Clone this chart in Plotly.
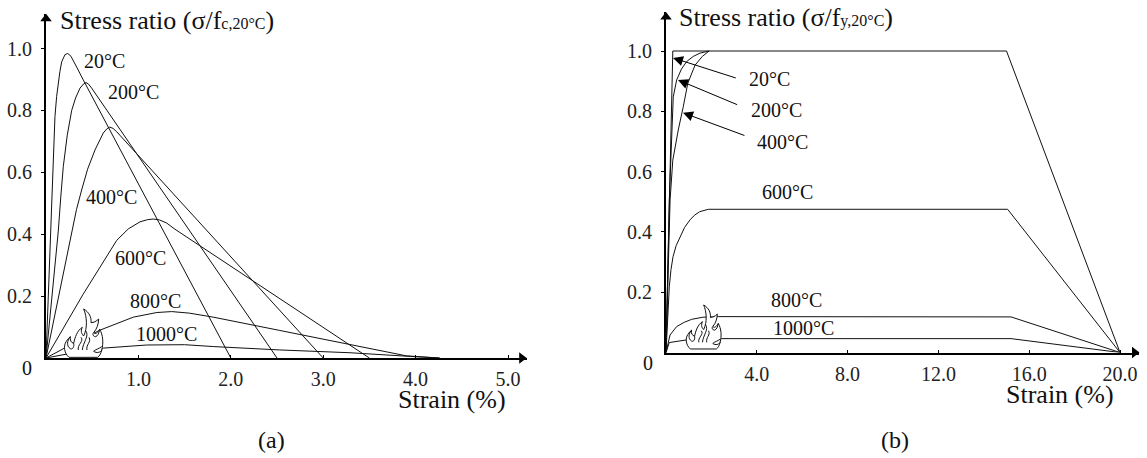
import plotly.graph_objects as go

W, H = 1147, 458
SERIF = "Liberation Serif"

# ---- panel (a) concrete: strain %, stress ratio
A_20_X = [0, .05, .075, .097, .115, .133, .15, .17, .19, .205, .235, .27, .332, .404, 2.0]
A_20_Y = [0, .41, .62, .78, .845, .888, .925, .957, .972, .98, .984, .975, .94, .898, 0]
A_200_X = [0, .133, .16, .187, .23, .278, .32, .368, .405, .433, .46, .494, 2.5]
A_200_Y = [0, .41, .52, .618, .72, .80, .84, .872, .885, .89, .885, .872, 0]
A_400_X = [0, .278, .33, .386, .45, .53, .62, .66, .69, .725, .765, 3.0]
A_400_Y = [0, .41, .48, .543, .61, .672, .727, .741, .746, .742, .731, 0]
A_600_X = [0, .4, .765, .83, .89, 1.017, 1.1, 1.16, 1.23, 1.306, 1.396, 3.5]
A_600_Y = [0, .205, .38, .40, .417, .44, .447, .449, .446, .436, .416, 0]
A_800_X = [0, .25, .584, .945, 1.2, 1.36, 1.55, 1.81, 2.53, 2.78, 3.31, 3.9, 4.26]
A_800_Y = [0, .04, .09, .132, .147, .15, .145, .132, .089, .074, .042, .007, 0]
A_1000_X = [0, .3, .62, 1.09, 1.5, 1.81, 2.53, 3.29, 4.0, 4.26]
A_1000_Y = [0, .017, .032, .042, .043, .037, .026, .017, .004, 0]
A_SERIES = [(A_20_X, A_20_Y), (A_200_X, A_200_Y), (A_400_X, A_400_Y),
            (A_600_X, A_600_Y), (A_800_X, A_800_Y), (A_1000_X, A_1000_Y)]
A_XT = [1, 2, 3, 4, 5]
A_XL = ["1.0", "2.0", "3.0", "4.0", "5.0"]
YT = [.2, .4, .6, .8, 1.0]
YL = ["0.2", "0.4", "0.6", "0.8", "1.0"]
TEMPS = ["20°C", "200°C", "400°C", "600°C", "800°C", "1000°C"]
A_LX = [.628, .942, .714, 1.02, 1.19, 1.3]
A_LY = [.96, .859, .52, .323, .184, .078]

# ---- panel (b) steel
B_20_X = [0, .3, 15, 20]
B_20_Y = [0, 1.0, 1.0, 0]
B_200_X = [0, .145, .32, .47, .68, .91, 1.2, 1.5, 1.9]
B_200_Y = [0, .506, .848, .904, .94, .965, .982, .993, 1.0]
B_400_X = [0, .18, .3, .54, .76, .96, 1.28, 1.6, 1.9]
B_400_Y = [0, .506, .638, .738, .815, .893, .953, .982, 1.0]
B_600_X = [0, .06, .145, .22, .31, .45, .62, .82, 1.06, 1.25, 1.48, 1.87, 15.05, 20]
B_600_Y = [0, .11, .218, .275, .318, .355, .384, .415, .44, .455, .467, .475, .475, 0]
B_800_X = [0, .1, .176, .47, .8, 1.13, 1.62, 2.3, 15.2, 20]
B_800_Y = [0, .03, .058, .086, .10, .11, .117, .119, .118, 0]
B_1000_X = [0, .145, .84, 2.45, 15.2, 20]
B_1000_Y = [0, .033, .041, .046, .046, 0]
B_SERIES = [(B_20_X, B_20_Y), (B_200_X, B_200_Y), (B_400_X, B_400_Y),
            (B_600_X, B_600_Y), (B_800_X, B_800_Y), (B_1000_X, B_1000_Y)]
B_XT = [4, 8, 12, 16, 20]
B_XL = ["4.0", "8.0", "12.0", "16.0", "20.0"]
B_LX = [4.54, 4.85, 5.15, 5.37, 5.73, 6.07]
B_LY = [.907, .804, .698, .532, .174, .082]
B_ARROW_TIP_X = [.31, .53, .75]
B_ARROW_TIP_Y = [.977, .904, .795]
B_ARROW_TAIL_X = [3.14, 3.2, 3.52]
B_ARROW_TAIL_Y = [.909, .82, .718]

# flame drawing (ornament), outline in its own local units
FLAME_OUTER = ("M42 172 C28 160 24 138 34 124 C38 118 42 113 46 110 C44 120 48 128 56 130 "
               "C60 112 66 92 82 82 C76 94 80 102 86 108 C98 84 96 50 86 27 C102 36 110 52 108 68 "
               "C116 68 124 64 131 57 C130 74 126 86 116 98 C122 104 128 98 134 88 "
               "C144 104 146 130 140 150 C138 160 134 168 128 172 Z")
FLAME_INNER = ["M46 110 C36 122 34 138 46 146 C54 150 58 138 56 130",
               "M92 92 C104 108 84 126 82 150",
               "M102 112 C110 126 92 134 96 150",
               "M78 112 C88 124 66 134 70 150",
               "M116 98 C112 102 114 110 122 110 C128 108 132 100 134 88",
               "M140 140 C132 146 122 148 116 154 C126 160 134 158 142 150"]


def px_to_paper(px, py):
    return f"{px / W:.5f} {1 - py / H:.5f}"


def flame_path(d, ox, oy, s):
    out, nums = [], []
    for tok in d.replace("M", " M ").replace("C", " C ").replace("Z", " Z ").split():
        if tok in "MCZ":
            out.append(tok)
        else:
            nums.append(float(tok))
            if len(nums) == 2:
                out.append(px_to_paper(ox + nums[0] * s / 3, oy + nums[1] * s / 3))
                nums = []
    return " ".join(out)


fig = go.Figure()
AX = dict(xaxis="x", yaxis="y")
BX = dict(xaxis="x2", yaxis="y2")
LINE = dict(color="#111111", width=1)
for xs, ys in A_SERIES:
    fig.add_trace(go.Scatter(x=xs, y=ys, mode="lines", line=LINE, **AX))
for xs, ys in B_SERIES:
    fig.add_trace(go.Scatter(x=xs, y=ys, mode="lines", line=LINE, **BX))
for refs, tx, ty in ((AX, 5.148, 1.096), (BX, 20.64, 1.113)):
    fig.add_trace(go.Scatter(x=[tx], y=[0], mode="markers", cliponaxis=False,
                             marker=dict(symbol="triangle-right", size=10, color="black"), **refs))
    fig.add_trace(go.Scatter(x=[0], y=[ty], mode="markers", cliponaxis=False,
                             marker=dict(symbol="triangle-up", size=10, color="black"), **refs))


def axis(dom, rng, tv, tl, direction):
    return dict(domain=dom, range=rng, tickvals=tv, ticktext=tl, showgrid=False, zeroline=False,
                showline=True, linecolor="black", linewidth=2, ticks=direction, ticklen=3,
                tickcolor="black", tickwidth=1, tickfont=dict(family=SERIF, size=20, color="#222222"))


def ann(x, y, text, xr, yr, size=20, anchor="center"):
    return dict(x=x, y=y, text=text, xref=xr, yref=yr, showarrow=False, xanchor=anchor, yanchor="middle",
                font=dict(family=SERIF, size=size, color="#111111"))


def pann(px, py, text, size=20):
    return ann(px / W, 1 - py / H, text, "paper", "paper", size)


anns = []
for t, x, y in zip(TEMPS, A_LX, A_LY):
    anns.append(ann(x, y, t, "x", "y"))
for t, x, y in zip(TEMPS, B_LX, B_LY):
    anns.append(ann(x, y, t, "x2", "y2"))
anns.append(ann(.13, 1.092, 'Stress ratio (σ/f<span style="font-size:16px">c,20°C</span>)', "x", "y", 26, "left"))
anns.append(ann(.49, 1.112, 'Stress ratio (σ/f<span style="font-size:16px">y,20°C</span>)', "x2", "y2", 26, "left"))
anns.append(pann(452, 399, "Strain (%)", 26))
anns.append(pann(1060, 394, "Strain (%)", 26))
anns.append(pann(27, 368, "0"))
anns.append(pann(648, 363, "0"))
anns.append(pann(271, 440, "(a)", 24))
anns.append(pann(895, 440, "(b)", 24))
for hx, hy, tx, ty in zip(B_ARROW_TIP_X, B_ARROW_TIP_Y, B_ARROW_TAIL_X, B_ARROW_TAIL_Y):
    anns.append(dict(x=hx, y=hy, ax=tx, ay=ty, xref="x2", yref="y2", axref="x2", ayref="y2", text="",
                     showarrow=True, arrowhead=2, arrowsize=2, arrowwidth=1, arrowcolor="black"))

shapes = []
for ox, oy, s in ((55, 300, 1.0), (677.6, 296.8, .91)):
    shapes.append(dict(type="path", xref="paper", yref="paper", layer="above",
                       path=flame_path(FLAME_OUTER, ox, oy, s),
                       fillcolor="white", line=dict(color="#111111", width=1)))
    for d in FLAME_INNER:
        shapes.append(dict(type="path", xref="paper", yref="paper", layer="above",
                           path=flame_path(d, ox, oy, s),
                           line=dict(color="#111111", width=1)))

fig.update_layout(
    width=W, height=H, margin=dict(l=0, r=0, t=0, b=0), showlegend=False,
    paper_bgcolor="white", plot_bgcolor="white", annotations=anns, shapes=shapes,
    xaxis=axis([46 / W, 527 / W], [0, 481 / 92.4], A_XT, A_XL, "inside"),
    yaxis=axis([1 - 358 / H, 1 - 14 / H], [0, 344 / 309.5], YT, YL, "outside"),
    xaxis2=axis([666 / W, 1139 / W], [0, 473 / 22.7], B_XT, B_XL, "inside"),
    yaxis2=axis([1 - 352.5 / H, 1 - 12 / H], [0, 340.5 / 301.5], YT, YL, "outside"),
)
fig.update_xaxes(ticklabelstandoff=2)
fig.update_yaxes(ticklabelstandoff=5)
fig.update_layout(xaxis=dict(anchor="y"), yaxis=dict(anchor="x"),
                  xaxis2=dict(anchor="y2"), yaxis2=dict(anchor="x2"))
fig.write_html("out.html", config=dict(displayModeBar=False),
               post_script="document.body.style.margin='0';document.body.style.overflow='hidden';")
